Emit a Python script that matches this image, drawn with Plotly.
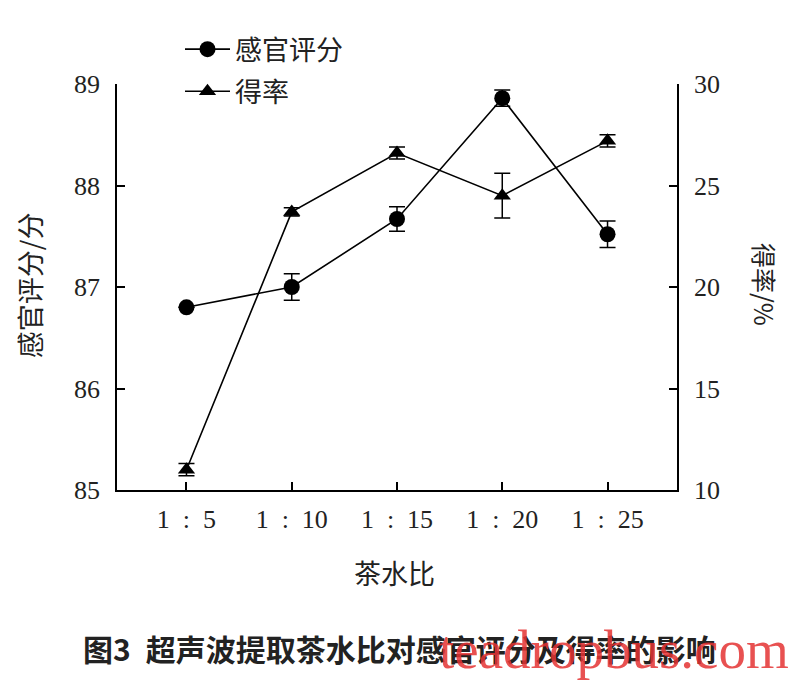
import plotly.graph_objects as go

ratios = ["1\u2002:\u20025", "1\u2002:\u200210", "1\u2002:\u200215", "1\u2002:\u200220", "1\u2002:\u200225"]
sensory = [86.80, 87.00, 87.67, 88.86, 87.52]
sensory_err = [0.0, 0.13, 0.12, 0.08, 0.13]
yield_rate = [11.0, 23.7, 26.6, 24.5, 27.2]
yield_err = [0.3, 0.2, 0.3, 1.1, 0.3]

SERIF = "Liberation Serif"
CJK = "Noto Sans CJK SC"
TXT = "#222222"

fig = go.Figure()
fig.add_trace(go.Scatter(
    x=ratios, y=sensory, mode="lines+markers", name="感官评分",
    legendgroup="a",
    marker=dict(symbol="circle", size=16, color="black"),
    line=dict(color="black", width=1.6),
    error_y=dict(type="data", array=sensory_err, visible=True,
                 color="black", thickness=1.5, width=8),
))
fig.add_trace(go.Scatter(
    x=ratios, y=yield_rate, mode="lines+markers", name="得率",
    legendgroup="b", yaxis="y2",
    marker=dict(symbol="triangle-up", size=15, color="black"),
    line=dict(color="black", width=1.6),
    error_y=dict(type="data", array=yield_err, visible=True,
                 color="black", thickness=1.5, width=8),
))

axis_common = dict(
    showline=True, linecolor="black", linewidth=1.5,
    ticks="inside", ticklen=8, tickwidth=1.5, tickcolor="black",
    showgrid=False, zeroline=False,
    tickfont=dict(family=SERIF, size=26, color=TXT),
)

fig.update_layout(
    width=800, height=684,
    margin=dict(l=109, r=131, t=76, b=202, autoexpand=False),
    paper_bgcolor="white", plot_bgcolor="white",
    showlegend=True,
    legend=dict(x=0.215, y=0.975, xref="container", yref="container",
                xanchor="left", yanchor="top", itemwidth=45,
                font=dict(family=CJK, size=27, color=TXT),
                bgcolor="rgba(0,0,0,0)", tracegroupgap=4),
    xaxis=dict(type="category", range=[-0.66, 4.66],
               ticklabelstandoff=5, **axis_common),
    yaxis=dict(range=[85, 89], dtick=1, ticklabelstandoff=10, **axis_common),
    yaxis2=dict(range=[10, 30], dtick=5, overlaying="y", side="right",
                ticklabelstandoff=10, **axis_common),
    annotations=[
        dict(text="茶水比", x=0.495, y=-0.202, xref="paper", yref="paper",
             xanchor="center", yanchor="middle",
             showarrow=False, font=dict(family=CJK, size=27, color=TXT)),
        dict(text="感官评分/分", x=-0.155, y=0.505, xref="paper", yref="paper",
             xanchor="center", yanchor="middle",
             showarrow=False, textangle=-90,
             font=dict(family=CJK, size=27, color=TXT)),
        dict(text="得率/%", x=1.157, y=0.505, xref="paper", yref="paper",
             xanchor="center", yanchor="middle",
             showarrow=False, textangle=90,
             font=dict(family=CJK, size=25, color=TXT)),
        dict(text="<b>图3\u2002超声波提取茶水比对感官评分及得率的影响</b>",
             x=0.5045, y=-0.389, xref="paper", yref="paper",
             xanchor="center", yanchor="middle",
             showarrow=False, font=dict(family=CJK, size=30, color=TXT)),
        dict(text="teadropbus.com", x=1.2036, y=-0.392, xref="paper", yref="paper",
             xanchor="right", yanchor="middle", showarrow=False,
             font=dict(family=SERIF, size=55, color="rgba(228,50,50,0.85)")),
    ],
)

fig.write_html("out.html")
